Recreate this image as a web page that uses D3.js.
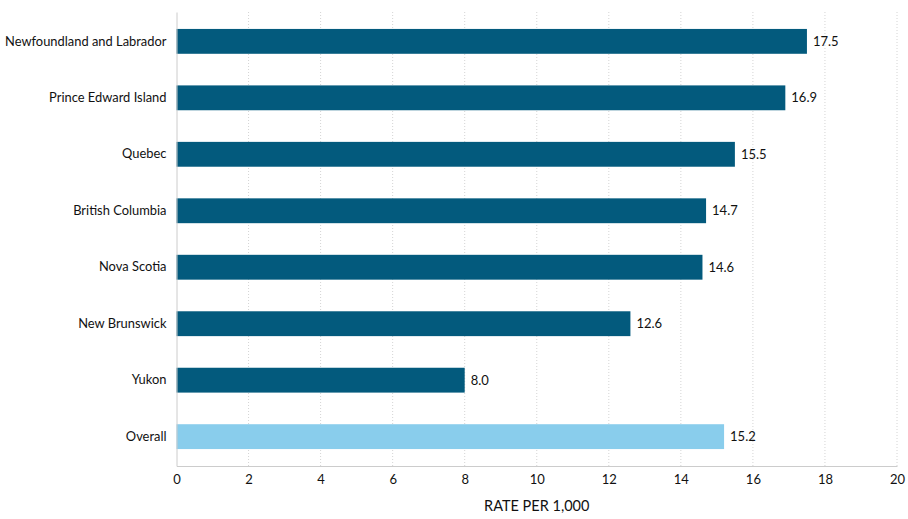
<!DOCTYPE html>
<html>
<head>
<meta charset="utf-8">
<script src="https://cdn.jsdelivr.net/npm/d3@7"></script>
<style>
  body { margin: 0; background: #fff; }
  svg text { font-family: Lato, "Noto Sans", sans-serif; fill: #111; }
</style>
</head>
<body>
<script>
var regions = ["Newfoundland and Labrador", "Prince Edward Island", "Quebec", "British Columbia",
               "Nova Scotia", "New Brunswick", "Yukon", "Overall"];
var rates = [17.5, 16.9, 15.5, 14.7, 14.6, 12.6, 8.0, 15.2];
var xTicks = [0, 2, 4, 6, 8, 10, 12, 14, 16, 18, 20];
var axisTitle = "RATE PER 1,000";

var svg_width = 908, svg_height = 519;
var svg = d3.select("body").append("svg").attr("width", svg_width).attr("height", svg_height);
var margin = {top: 12, right: 11, bottom: 53, left: 176.5};
var width = svg_width - margin.left - margin.right,
    height = svg_height - margin.top - margin.bottom;
var g = svg.append("g").attr("transform", "translate(" + margin.left + "," + margin.top + ")");

var x = d3.scaleLinear().domain([0, 20]).range([0, width]);
var y = d3.scaleBand().domain(regions).range([0, height]).paddingInner(0.56).paddingOuter(0.3);

// dotted grid
g.selectAll(".grid")
  .data(xTicks.slice(1))
  .enter().append("line")
    .attr("class", "grid")
    .attr("x1", function(d) { return x(d); })
    .attr("x2", function(d) { return x(d); })
    .attr("y1", 0)
    .attr("y2", height)
    .attr("stroke", "#d4d4d4")
    .attr("stroke-dasharray", "1,2");

g.selectAll(".bar")
  .data(regions)
  .enter().append("rect")
    .attr("class", "bar")
    .attr("x", 0)
    .attr("y", function(d) { return y(d); })
    .attr("width", function(d, i) { return x(rates[i]); })
    .attr("height", y.bandwidth())
    .attr("fill", function(d) { return d == "Overall" ? "#89cdec" : "#035a7d"; });

g.selectAll(".val")
  .data(regions)
  .enter().append("text")
    .attr("class", "val")
    .attr("x", function(d, i) { return x(rates[i]) + 6; })
    .attr("y", function(d) { return y(d) + y.bandwidth() / 2; })
    .attr("dy", "0.35em")
    .style("font-size", "13px")
    .text(function(d, i) { return rates[i].toFixed(1); });

// y axis
var yAxis = g.append("g").call(d3.axisLeft(y).tickSize(0).tickPadding(10));
yAxis.select(".domain").attr("stroke", "#cccccc");
yAxis.selectAll("text").style("font-size", "12.9px").style("font-family", "Lato, 'Noto Sans', sans-serif").attr("fill", "#111");

// x axis
var xAxis = g.append("g")
    .attr("transform", "translate(0," + height + ")")
    .call(d3.axisBottom(x).tickValues(xTicks).tickSize(0).tickPadding(9));
xAxis.select(".domain").attr("stroke", "#cccccc");
xAxis.selectAll("text").style("font-size", "13px").style("font-family", "Lato, 'Noto Sans', sans-serif").attr("fill", "#111");

svg.append("text")
    .attr("x", margin.left + x(10))
    .attr("y", 511)
    .attr("text-anchor", "middle")
    .style("font-size", "14.5px")
    .text(axisTitle);
</script>
</body>
</html>
